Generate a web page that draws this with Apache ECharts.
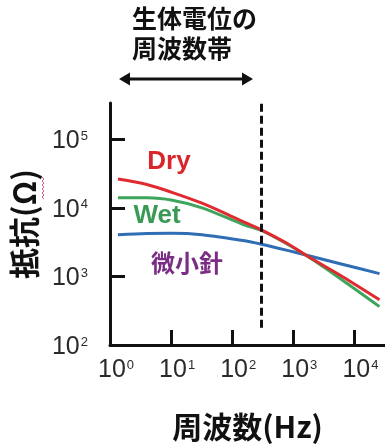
<!DOCTYPE html>
<html>
<head>
<meta charset="utf-8">
<script src="https://cdn.jsdelivr.net/npm/echarts@6/dist/echarts.min.js"></script>
<style>
html,body{margin:0;padding:0;background:#fff;}
#chart{width:385px;height:445px;}
</style>
</head>
<body>
<div id="chart"></div>
<script>
// Frequencies (Hz) at which the curves were read
const freqHz = [1.35, 4, 10, 32, 160, 300, 800, 1660, 6300, 25700];
// Impedance (Ω) per electrode type
const dryOhm = [26300, 21900, 17000, 11700, 6170, 4790, 3020, 2000, 1000, 457];
const wetOhm = [14100, 14000, 13000, 10000, 5620, 4680, 2950, 2000, 890, 363];
const needleOhm = [4070, 4220, 4250, 4050, 3310, 2950, 2400, 2040, 1510, 1100];
// Axis tick values
const xTickLabels = [1, 10, 100, 1000, 10000];
const xTickMarks = [10, 100, 1000, 10000];
const yTicks = [100, 1000, 10000, 100000];
// Bio-potential band upper edge (Hz)
const bandEdgeHz = 300;
const seriesNames = ['Dry', 'Wet', '微小針'];

const chart = echarts.init(document.getElementById('chart'), null, {renderer: 'canvas'});

function pair(arr) { return freqHz.map((f, i) => [f, arr[i]]); }
function expLabel(v) { return '{b|10}{s|' + Math.round(Math.log10(v)) + '}'; }
const numFont = '"Liberation Sans Narrow", "Liberation Sans", sans-serif';
const richDigits = {
  b: {fontSize: 25, fontFamily: numFont, color: '#2a2a2a'},
  s: {fontSize: 13, fontFamily: numFont, color: '#2a2a2a', padding: [0, 0, 10, 1]}
};
const cjk = '"Noto Sans CJK JP", "Noto Sans", sans-serif';

const option = {
  backgroundColor: '#fff',
  animation: false,
  grid: {left: 110, right: 0, top: 103, bottom: 100, outerBoundsMode: 'none'},
  xAxis: {
    type: 'log', logBase: 10, min: 1, max: 31623,
    name: '周波数(Hz)', nameLocation: 'middle', nameGap: 67,
    nameTextStyle: {fontSize: 30, fontWeight: 'bold', fontFamily: cjk, color: '#111'},
    axisLine: {show: true, lineStyle: {color: '#111', width: 3}},
    axisTick: {show: true, inside: true, length: 15, lineStyle: {color: '#111', width: 3}, customValues: xTickMarks},
    axisLabel: {formatter: expLabel, rich: richDigits, margin: 13, padding: [0, 0, 0, 12], customValues: xTickLabels},
    splitLine: {show: false}, minorTick: {show: false}
  },
  yAxis: {
    type: 'log', logBase: 10, min: 100, max: 338844,
    name: '抵抗(Ω)', nameLocation: 'middle', nameGap: 70, nameRotate: 90,
    nameTextStyle: {fontSize: 31, fontWeight: 'bold', fontFamily: cjk, color: '#111'},
    axisLine: {show: true, lineStyle: {color: '#111', width: 3}},
    axisTick: {show: true, inside: true, length: 15, lineStyle: {color: '#111', width: 3}, customValues: yTicks},
    axisLabel: {formatter: expLabel, rich: richDigits, margin: 22, padding: [4, 0, 0, 0], customValues: yTicks},
    splitLine: {show: false}, minorTick: {show: false}
  },
  series: [
    {name: seriesNames[2], type: 'line', data: pair(needleOhm), smooth: 0.3, symbol: 'none',
     lineStyle: {color: '#2f6db5', width: 3}, z: 2},
    {name: seriesNames[1], type: 'line', data: pair(wetOhm), smooth: 0.3, symbol: 'none',
     lineStyle: {color: '#3ea55c', width: 3}, z: 3},
    {name: seriesNames[0], type: 'line', data: pair(dryOhm), smooth: 0.3, symbol: 'none',
     lineStyle: {color: '#e02a30', width: 3}, z: 4,
     markLine: {symbol: 'none', silent: true, label: {show: false},
       lineStyle: {color: '#111', width: 3, type: [8, 4]},
       data: [[{coord: [bandEdgeHz, 330000]}, {coord: [bandEdgeHz, 170]}]]}}
  ],
  graphic: [
    {type: 'text', left: 132, top: 6, style: {text: '生体電位の', font: 'bold 25px ' + cjk, fill: '#111'}},
    {type: 'text', left: 132, top: 36, style: {text: '周波数帯', font: 'bold 25px ' + cjk, fill: '#111'}},
    {type: 'line', shape: {x1: 126, y1: 79, x2: 246, y2: 79}, style: {stroke: '#111', lineWidth: 3}},
    {type: 'polygon', shape: {points: [[119, 79], [130, 72.5], [130, 85.5]]}, style: {fill: '#111'}},
    {type: 'polygon', shape: {points: [[253, 79], [242, 72.5], [242, 85.5]]}, style: {fill: '#111'}},
    {type: 'text', x: 169, y: 162, style: {text: seriesNames[0], font: 'bold 26px "Liberation Sans", sans-serif', fill: '#d9262b', align: 'center', verticalAlign: 'middle'}},
    {type: 'text', x: 157, y: 216, style: {text: seriesNames[1], font: 'bold 26px "Liberation Sans", sans-serif', fill: '#3a9a55', align: 'center', verticalAlign: 'middle'}},
    {type: 'text', x: 187, y: 263, style: {text: seriesNames[2], font: 'bold 24px ' + cjk, fill: '#7b2d86', align: 'center', verticalAlign: 'middle'}},
    {type: 'polyline', shape: {points: [[42, 177], [44, 179], [42, 181], [44, 183], [42, 185], [44, 187], [42, 189], [44, 191], [42, 193], [44, 195], [42, 197], [44, 199]]}, style: {stroke: '#e0607a', lineWidth: 1, fill: null}}
  ]
};
chart.setOption(option);
</script>
</body>
</html>
